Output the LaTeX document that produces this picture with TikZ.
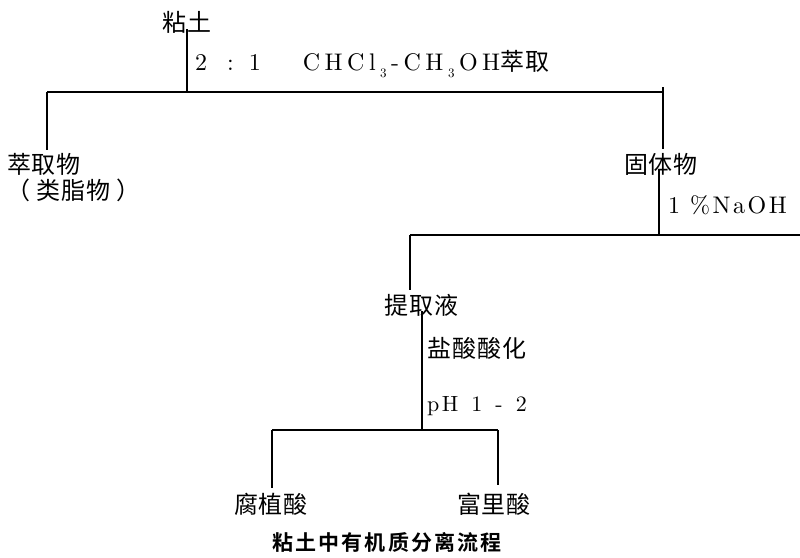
\documentclass[tikz,border=0pt]{standalone}
\usepackage{fontspec}
\setmainfont{lmroman10-regular.otf}
\newfontfamily\cjk[LetterSpace=4]{Noto Sans CJK SC}
\newfontfamily\cjkb[LetterSpace=10]{Noto Sans CJK SC Bold}
\newcommand\subn[1]{\raisebox{-0.3em}{\fontsize{13}{13}\selectfont #1}}
\newcommand\ks{\kern4.5pt}
\newcommand\kn{\kern2.5pt}
\begin{document}
\begin{tikzpicture}[x=1pt,y=-1pt,
  cn/.style={inner sep=0pt, font=\fontsize{24}{26}\selectfont\cjk},
  lat/.style={inner sep=0pt, anchor=base west, font=\fontsize{24}{27}\selectfont},
  ttl/.style={inner sep=0pt, font=\fontsize{21}{24}\selectfont\cjkb},
  ln/.style={line width=2.8pt}]
\useasboundingbox (0,0) rectangle (800,557);
% nodes
\node[cn] (soil) at (187,22) {粘土};
\node[lat] (l1) at (195,70) {2\hspace{20pt}:\hspace{15pt}1\hspace{42pt}C\ks H\ks C\ks l\ks\subn{3}\ks -\ks C\ks H\ks\subn{3}\ks O\ks H{\fontsize{24}{26}\selectfont\cjk 萃取}};
\node[cn] (ext) at (44,164) {萃取物};
\node[cn, anchor=west] (lip) at (6,190) {（ 类脂物 ）};
\node[cn] (solid) at (661,164) {固体物};
\node[lat] (l2) at (668,213) {1\hspace{10pt}\%\kn N\kn a\kn O\kn H};
\node[cn, anchor=west] (liq) at (384,305) {提取液};
\node[cn, anchor=west] (l3) at (427,348) {盐酸酸化};
\node[lat, font=\fontsize{22}{25}\selectfont] (l4) at (427,411) {p\kn H\hspace{13pt}1\hspace{13pt}-\hspace{13pt}2};
\node[cn] (ha) at (271,504) {腐植酸};
\node[cn] (fa) at (494,504) {富里酸};
\node[ttl] (title) at (387,542) {粘土中有机质分离流程};
% junction coordinates
\coordinate (b1L) at (47,92);
\coordinate (b1R) at (663,92);
\coordinate (b1M) at (187,92);
\coordinate (b2L) at (410,235);
\coordinate (b2R) at (800,235);
\coordinate (b2M) at (659,235);
\coordinate (b3L) at (272,430);
\coordinate (b3R) at (498,430);
\coordinate (b3M) at (422,430);
% connectors
\draw[ln] ([yshift=4pt]soil.south -| b1M) -- (b1M);
\draw[ln] (b1L) -- (b1R);
\draw[ln] (b1L) -- ([yshift=3pt]ext.north -| b1L);
\draw[ln] ([yshift=5pt]b1R) -- ([yshift=4pt]solid.north -| b1R);
\draw[ln] ([yshift=5pt]solid.south -| b2M) -- (b2M);
\draw[ln] (b2L) -- (b2R);
\draw[ln] (b2L) -- ([yshift=4pt]liq.north -| b2L);
\draw[ln] ([yshift=5pt]liq.south -| b3M) -- (b3M);
\draw[ln] (b3L) -- (b3R);
\draw[ln] (b3L) -- ([yshift=5pt]ha.north -| b3L);
\draw[ln] (b3R) -- ([yshift=8pt]fa.north -| b3R);
\end{tikzpicture}
\end{document}
